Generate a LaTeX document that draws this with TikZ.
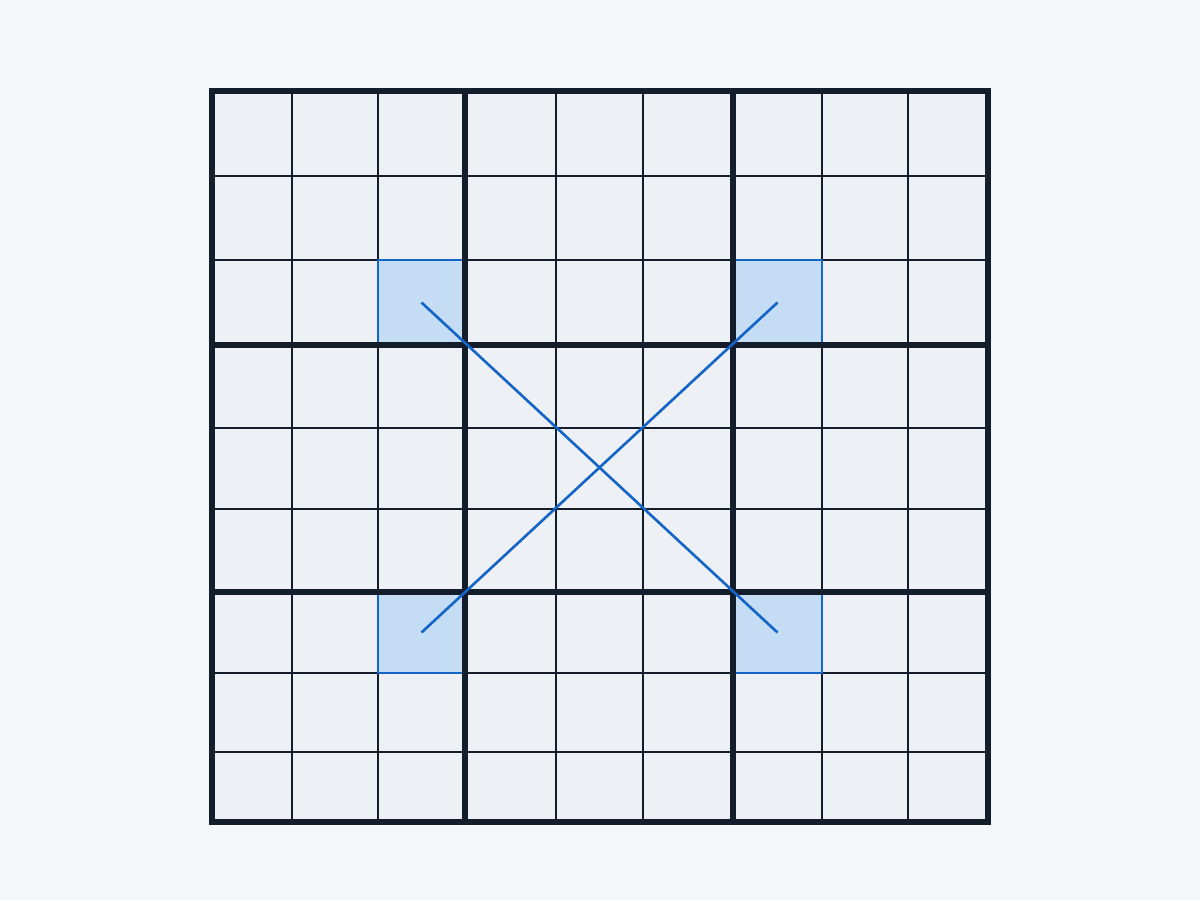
\documentclass[tikz,border=0pt]{standalone}
\usepackage{xcolor}
\definecolor{pagecol}{HTML}{F4F7FA}
\definecolor{cellcol}{HTML}{EDF1F6}
\definecolor{gridcol}{HTML}{131D2C}
\definecolor{markcol}{HTML}{C4DDF5}
\definecolor{linkcol}{HTML}{1565C8}
\tikzstyle{thinline}=[gridcol,line width=1.1pt]
\tikzstyle{boxline}=[gridcol,line width=3.6pt,line cap=rect]
\tikzstyle{marked}=[fill=markcol,draw=linkcol,line width=1.4pt]
\tikzstyle{link}=[linkcol,line width=1.5pt]

\begin{document}
\begin{tikzpicture}[x=0.02cm,y=-0.02cm]
  \useasboundingbox[fill=pagecol] (0,0) rectangle (1200,900);

  % CELLS
  \fill[cellcol] (212,91) rectangle (988,822);
  \foreach \xa/\ya/\xb/\yb/\nm in {378/260/465/345/TL,733/260/822/345/TR,
                                   378/592/465/673/BL,733/592/822/673/BR}{
    \fill[markcol] (\xa,\ya) rectangle (\xb,\yb);
    \coordinate (\nm) at ({(\xa+\xb)/2},{(\ya+\yb)/2});
  }

  % THIN LINES
  \foreach \x in {292,378,556,643,822,908}{
    \draw[thinline] (\x,91) -- (\x,822);
  }
  \foreach \y in {176,260,428,509,673,752}{
    \draw[thinline] (212,\y) -- (988,\y);
  }

  % MARKED CELLS
  \foreach \xa/\ya/\xb/\yb in {378/260/465/345,733/260/822/345,
                               378/592/465/673,733/592/822/673}{
    \draw[marked] (\xa,\ya) rectangle (\xb,\yb);
  }

  % BOXES
  \foreach \x in {465,733}{
    \draw[boxline] (\x,91) -- (\x,822);
  }
  \foreach \y in {345,592}{
    \draw[boxline] (212,\y) -- (988,\y);
  }
  \draw[boxline,line join=miter] (212,91) rectangle (988,822);

  % LINKS
  \draw[link] (TL) -- (BR);
  \draw[link] (TR) -- (BL);

\end{tikzpicture}
\end{document}
